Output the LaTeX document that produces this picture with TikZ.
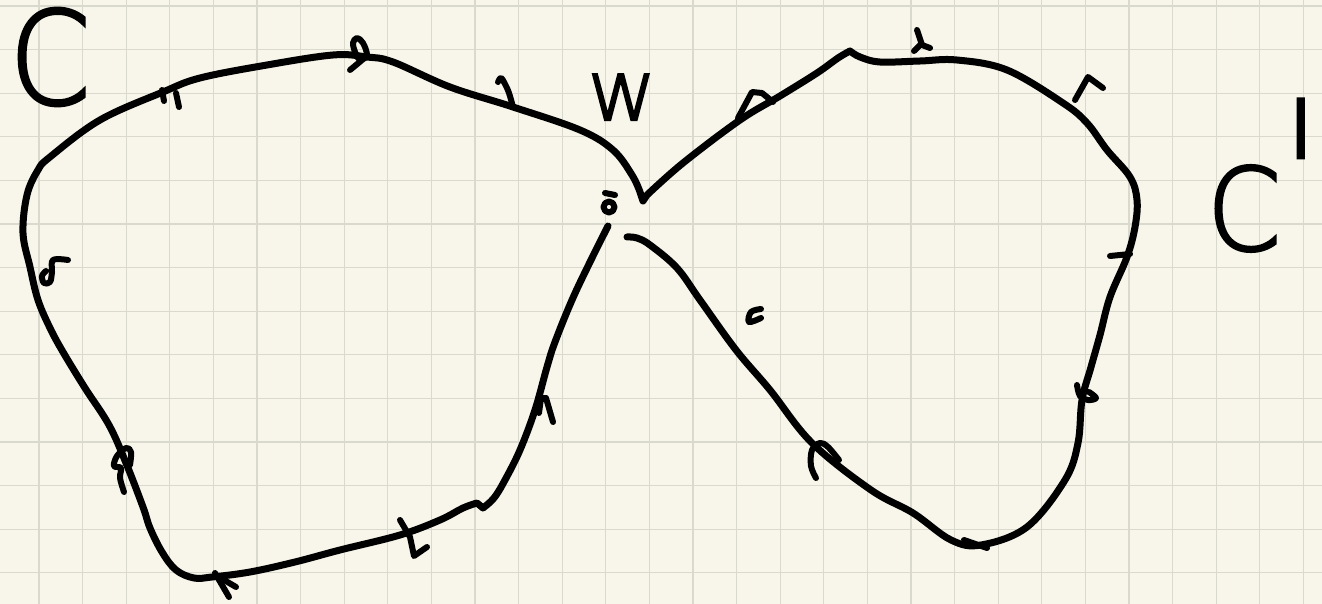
\documentclass[tikz,border=0pt]{standalone}
\usepackage{fontspec}
\newfontfamily\handfont{DejaVu Sans}[UprightFont={* ExtraLight}, FakeBold=2.5, AutoFakeBold=false]
\definecolor{paper}{HTML}{F8F6EA}
\definecolor{gridc}{HTML}{DAD9CE}
\tikzset{
  curve/.style={line width=7pt, line cap=round, line join=round, black},
  tick/.style={line width=6pt, line cap=round, line join=round, black},
  gridline/.style={gridc, line width=1.2pt},
  hand/.style={inner sep=0pt, outer sep=0pt, black}
}
\begin{document}
\begin{tikzpicture}[x=1pt,y=-1pt]
\useasboundingbox (0,0) rectangle (1322,604);
\fill[paper] (0,0) rectangle (1322,604);
\foreach \i in {0,...,29} \draw[gridline] ({39+43.6*\i},0) -- ({39+43.6*\i},604);
\foreach \j in {0,...,13} \draw[gridline] (0,{6+43.6*\j}) -- (1322,{6+43.6*\j});

% main figure-eight outline
\draw[curve]
  plot[smooth, tension=0.6] coordinates {(608,226) (590,262) (572,300) (555,342) (547,367) (535,410) (520,450) (505,480) (494,498) (483,508)}
  -- (477,503)
  -- plot[smooth, tension=0.6] coordinates {(477,503) (463,508) (440,520) (400,535) (340,550) (295,562) (250,572) (212,577) (194,578) (176,570) (162,552) (150,528) (143,507) (126,463) (109,425) (85,388) (63,352) (50,328) (38,300) (30,267) (23,233) (27,195) (38,170) (50,157) (100,120) (163,92) (200,78) (267,65) (333,55) (367,57) (393,62) (450,87) (513,107) (580,130) (613,150) (632,175) (640,192)}
  -- (643,201) -- (647,195)
  -- plot[smooth, tension=0.6] coordinates {(647,195) (683,163) (740,120) (780,96) (817,73) (838,58) (850,51)}
  -- plot[smooth, tension=0.6] coordinates {(850,51) (860,57) (880,62) (920,61) (957,60) (1007,70) (1063,103) (1087,123) (1107,150) (1130,177) (1137,200) (1135,227) (1127,257) (1110,297) (1100,335) (1091,367) (1082,400) (1078,443) (1065,480) (1027,527) (981,545) (951,540) (913,513) (871,490) (812,443) (770,390) (736,350) (700,300) (677,268) (650,245) (637,238) (627,237)};

% small hand marks along the curves
\draw[tick] plot[smooth, tension=0.6] coordinates {(350,70) (362,60) (367,55) (363,43) (357,38) (353,43) (355,52) (358,58)};
\draw[tick] (162,90) -- (164,101);
\draw[tick] (176,93) -- (179,107);
\draw[tick] plot[smooth, tension=0.6] coordinates {(68,260) (53,260) (52,272) (50,282) (44,283) (42,276) (46,271)};
\draw[tick] plot[smooth, tension=0.6] coordinates {(124,492) (120,478) (121,468) (114,466) (117,456) (126,448) (131,452) (130,465)};
\draw[tick] (400,520) -- (410,537) -- (414,556) -- (427,547);
\draw[tick] (215,573) -- (229,597);
\draw[tick] (219,577) -- (236,587);
\draw[tick] (539,413) -- (541,398) -- (546,398) -- (553,422);
\draw[tick] plot[smooth, tension=0.6] coordinates {(498,82) (501,78) (505,84) (509,93) (513,107)};
\draw[tick] (738,118) -- (752,92) -- (762,93) -- (773,102);
\draw[tick] (917,30) -- (922,45) -- (930,48);
\draw[tick] (914,51) -- (921,44);
\draw[tick] (1075,100) -- (1088,77) -- (1103,88);
\draw[tick] (1110,256) -- (1130,254);
\draw[tick] plot[smooth, tension=0.6] coordinates {(1077,385) (1080,396) (1088,400) (1096,398) (1089,392)};
\draw[tick] (964,540) -- (987,548);
\draw[tick] plot[smooth, tension=0.6] coordinates {(816,478) (811,466) (812,450) (820,443) (828,447) (839,460)};
\draw[tick] plot[smooth, tension=0.6] coordinates {(761,309) (751,312) (749,322) (761,318)};
\draw[tick] (609,207) circle (5.5);
\draw[tick] (605,193) -- (615,195);

% labels
\node[hand, font=\handfont\fontsize{129}{129}\selectfont, xscale=0.9] (labC) at (50,57) {C};
\node[hand, font=\handfont\fontsize{84}{84}\selectfont, anchor=base] (labw) at (622,120) {w};
\node[hand, font=\handfont\fontsize{114}{114}\selectfont, anchor=base west, xscale=0.93] (labCp) at (1207,250) {C\kern4pt\raisebox{-3pt}{\scalebox{0.6}[1]{\fontsize{210}{210}\selectfont\textquotesingle}}};
\end{tikzpicture}
\end{document}
